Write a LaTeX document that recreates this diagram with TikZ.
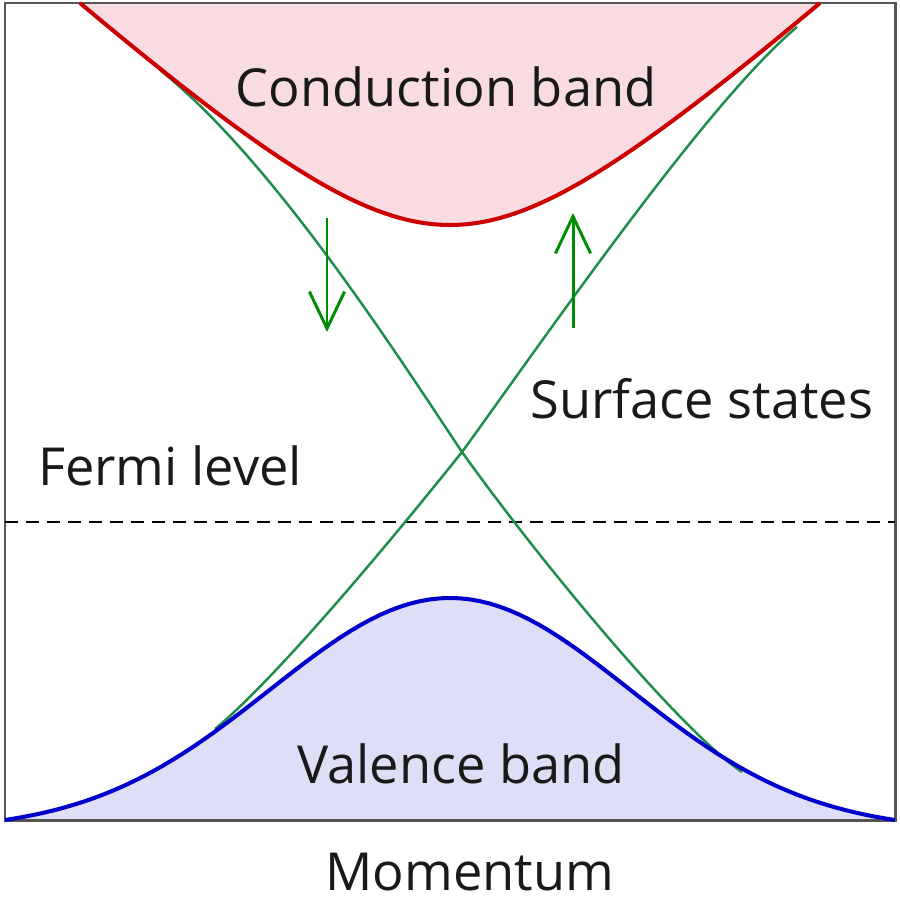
\documentclass[tikz,border=0pt]{standalone}
\usepackage{fontspec}
\setmainfont{Open Sans}
\usepackage{xcolor}
\definecolor{condred}{RGB}{204,0,0}
\definecolor{condfill}{RGB}{248,220,225}
\definecolor{valblue}{RGB}{0,0,204}
\definecolor{valfill}{RGB}{222,222,247}
\definecolor{surfgreen}{RGB}{30,140,75}
\definecolor{spingreen}{RGB}{0,140,0}
\definecolor{framegray}{RGB}{85,85,85}
\usetikzlibrary{arrows.meta}

\begin{document}
\begin{tikzpicture}[
  x=0.01cm,y=-0.01cm,
  lbl/.style={font=\fontsize{14.9}{17}\selectfont,text=black!90,
    anchor=base,inner sep=0pt},
  surf/.style={draw=surfgreen,line width=0.7pt},
  spin/.style={draw=spingreen,line width=0.85pt,
    -{Straight Barb[length=10.5pt,width=10pt,line width=0.85pt]}}
]
  \useasboundingbox (0,0) rectangle (900,900);
  % filled bands
  \fill[condfill] plot[domain=-3.7:3.7,samples=91]
    ({450+100*\x},{370.4-100*sqrt(2.1141+0.8315*\x*\x)}) -- cycle;
  \fill[valfill] plot[domain=-4.45:4.45,samples=91]
    ({450+100*\x},{830.95-232.95*exp(-\x*\x/6.48)}) -- cycle;
  \draw[framegray,line width=0.85pt] (5,3) rectangle (895,820);
  % Fermi level
  \coordinate (fleft) at (5,522);
  \coordinate (fright) at (895,522);
  \draw[line width=0.7pt,dash pattern=on 0.13cm off 0.08cm] (fleft) -- (fright);
  % surface states
  \coordinate (cross) at (462,452);
  \coordinate (dstart) at (160,70);
  \coordinate (dend) at (742,772);
  \coordinate (ustart) at (215,729);
  \coordinate (uend) at (797,27);
  \draw[surf] (dstart) .. controls (272,160) and (392,347) .. (cross)
    .. controls (542,564) and (682,732) .. (dend);
  \draw[surf] (ustart) .. controls (275,679) and (382,552) .. (cross)
    .. controls (542,342) and (707,102) .. (uend);
  % band edges
  \draw[condred,line width=1.15pt] plot[domain=-3.7:3.7,samples=91]
    ({450+100*\x},{370.4-100*sqrt(2.1141+0.8315*\x*\x)});
  \draw[valblue,line width=1.15pt] plot[domain=-4.45:4.45,samples=91]
    ({450+100*\x},{830.95-232.95*exp(-\x*\x/6.48)});
  % spin arrows
  \coordinate (dtop) at (327,218);
  \coordinate (dbot) at (327,332);
  \coordinate (ubot) at (573,328);
  \coordinate (utop) at (573,213);
  \draw[spin] (dtop) -- (dbot);
  \draw[spin] (ubot) -- (utop);
  % labels
  \node[lbl] (cb) at (446,106) {Conduction band};
  \node[lbl] (ss) at (702,418) {Surface states};
  \node[lbl] (fermi) at (170,485) {Fermi level};
  \node[lbl] (vb) at (461,783) {Valence band};
  \node[lbl] (mom) at (470,890) {Momentum};
\end{tikzpicture}
\end{document}
